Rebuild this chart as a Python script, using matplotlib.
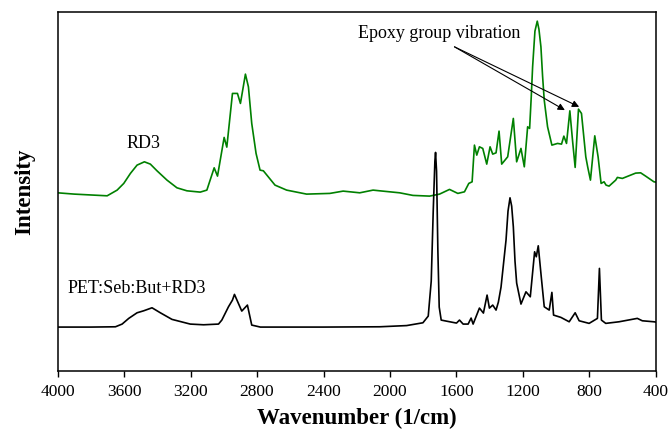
import numpy as np
import matplotlib
matplotlib.use("Agg")
import matplotlib.pyplot as plt

plt.rcParams["font.family"] = "serif"
plt.rcParams["font.serif"] = ["Liberation Serif", "DejaVu Serif"]

# FTIR spectra (wavenumber in 1/cm, intensity in arbitrary units, already offset)
wn_blend = [4000, 3800, 3652, 3612, 3572, 3522, 3482, 3432, 3382, 3312, 3202, 3122,
            3032, 3012, 2972, 2948, 2936, 2892, 2858, 2832, 2780, 2400, 2062, 1900,
            1802, 1770, 1752, 1740, 1730, 1726, 1720, 1712, 1704, 1692, 1662, 1600,
            1582, 1560, 1530, 1512, 1500, 1462, 1438, 1416, 1402, 1382, 1362, 1348,
            1332, 1302, 1290, 1278, 1268, 1258, 1248, 1238, 1212, 1182, 1156, 1130,
            1120, 1108, 1090, 1072, 1042, 1026, 1016, 972, 922, 886, 862, 802, 752,
            740, 728, 702, 622, 512, 482, 412, 400]
int_blend = [44, 44, 44.3, 47, 52.7, 58.3, 60.3, 63.3, 58.3, 51.7, 47, 46.3,
             47, 51, 64.3, 71, 76.7, 60, 66, 46, 44, 44, 44.3, 45.5,
             48.3, 55, 90, 160, 210, 218.7, 200, 120, 64, 51, 50, 48,
             51, 47, 47, 53, 47, 63, 58, 76, 63, 66, 61, 69,
             84, 131, 160, 173.3, 165, 144.3, 110, 88, 67, 79.3, 74.3, 119.3,
             114.3, 125.3, 94.3, 64.3, 61, 78.7, 56, 53.7, 49.3, 58.3, 50.3, 47.7, 52.7,
             102.7, 51, 47.7, 49.3, 52.7, 50.3, 49.3, 49]

wn_rd3 = [4000, 3900, 3702, 3642, 3602, 3562, 3522, 3478, 3442, 3402, 3342, 3282,
          3222, 3142, 3102, 3058, 3038, 2998, 2982, 2948, 2918, 2900, 2870, 2852,
          2832, 2806, 2782, 2762, 2692, 2622, 2502, 2362, 2282, 2182, 2102, 2062,
          1942, 1862, 1762, 1702, 1642, 1592, 1552, 1526, 1506, 1492, 1478, 1462,
          1442, 1418, 1398, 1382, 1362, 1344, 1328, 1292, 1258, 1238, 1212, 1192,
          1172, 1160, 1150, 1142, 1128, 1114, 1104, 1092, 1082, 1072, 1052, 1026,
          992, 968, 954, 938, 918, 902, 886, 866, 848, 822, 810, 794, 768, 748,
          730, 712, 700, 682, 642, 632, 602, 522, 492, 462, 412, 400]
int_rd3 = [178.3, 177, 175.3, 181, 187.7, 197.7, 206, 209.3, 207, 200.3, 191, 183.3,
           180.3, 179, 181, 203.3, 195, 233.7, 224, 277.7, 277.7, 267.7, 297, 284.3,
           247.7, 217.7, 201, 200.3, 186, 181, 177, 177.7, 180, 178.3, 181, 180.3,
           178.3, 175.7, 175, 177, 181.7, 177.7, 179.3, 187.7, 189.3, 226, 216, 224.3,
           222.7, 207, 224.3, 217, 218.3, 240, 207, 214.3, 252.7, 209.3, 222.7, 204.3,
           244.3, 242.7, 275, 304.3, 340, 350, 342, 324.3, 295, 271, 244.3, 226,
           227.7, 227, 235, 227.7, 260.3, 231, 203.7, 262, 257.7, 214.3, 203.7, 191, 235.3, 214.3,
           187.7, 189.3, 186, 185, 191, 193.7, 192.7, 198, 198.3, 195, 189.3, 189]

xticks = [4000, 3600, 3200, 2800, 2400, 2000, 1600, 1200, 800, 400]

fig = plt.figure(figsize=(6.7, 4.34), dpi=100)
ax = fig.add_subplot(111)
fig.subplots_adjust(left=0.086, right=0.979, top=0.972, bottom=0.145)

ax.plot(wn_rd3, int_rd3, color="#008000", lw=1.2)
ax.plot(wn_blend, int_blend, color="black", lw=1.2)

ax.text(3484, 227.7, "RD3", fontsize=13, ha="center", va="center")
ax.text(3522, 82.7, "PET:Seb:But+RD3", fontsize=13, ha="center", va="center")

# epoxy peaks
ax.text(1702, 338, "Epoxy group vibration", fontsize=13, ha="center", va="center")
tail = (1612, 324.3)
for head in [(948, 261), (862, 264.3)]:
    ax.annotate("", xy=head, xytext=tail,
                arrowprops=dict(arrowstyle="-|>", color="black", lw=0.8,
                                mutation_scale=10, shrinkA=0, shrinkB=0))

ax.set_xlim(4000, 400)
ax.set_ylim(0, 359)
ax.set_xticks(xticks)
ax.set_yticks([])
ax.tick_params(axis="x", direction="out", length=4, width=1, labelsize=12.5, pad=5)
for s in ax.spines.values():
    s.set_linewidth(1.1)

ax.set_xlabel("Wavenumber (1/cm)", fontsize=16.5, fontweight="bold", labelpad=6)
ax.set_ylabel("Intensity", fontsize=16.5, fontweight="bold", labelpad=16)

fig.savefig("out.png", dpi=100)
